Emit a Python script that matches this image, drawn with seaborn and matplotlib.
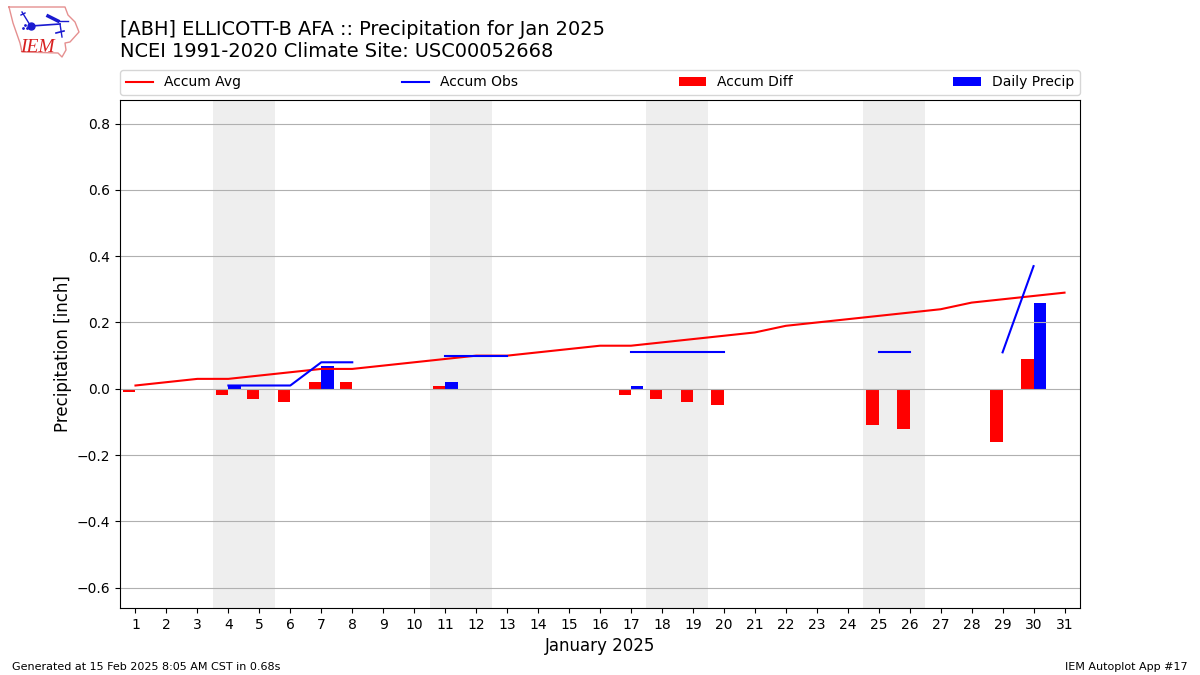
import matplotlib
matplotlib.use("Agg")
import matplotlib.pyplot as plt
import seaborn as sns
import pandas as pd
import numpy as np

days = list(range(1, 32))
accum_avg = [0.01, 0.02, 0.03, 0.03, 0.04, 0.05, 0.06, 0.06, 0.07, 0.08, 0.09,
             0.10, 0.10, 0.11, 0.12, 0.13, 0.13, 0.14, 0.15, 0.16, 0.17, 0.19,
             0.20, 0.21, 0.22, 0.23, 0.24, 0.26, 0.27, 0.28, 0.29]

# obs line is broken on days without a value, so keep a segment id for each point
obs_days = [4, 5, 6, 7, 8, 11, 12, 13, 17, 18, 19, 20, 25, 26, 29, 30]
obs_vals = [0.01, 0.01, 0.01, 0.08, 0.08, 0.10, 0.10, 0.10, 0.11, 0.11, 0.11,
            0.11, 0.11, 0.11, 0.11, 0.37]
obs_segment = [1, 1, 1, 1, 1, 2, 2, 2, 3, 3, 3, 3, 4, 4, 5, 5]

accum_diff = [-0.01, 0, 0, -0.02, -0.03, -0.04, 0.02, 0.02, 0, 0, 0.01, 0, 0, 0,
              0, 0, -0.02, -0.03, -0.04, -0.05, 0, 0, 0, 0, -0.11, -0.12, 0, 0,
              -0.16, 0.09, 0]
daily_precip = [0, 0, 0, 0.01, 0, 0, 0.07, 0, 0, 0, 0.02, 0, 0, 0, 0, 0, 0.01, 0,
                0, 0, 0, 0, 0, 0, 0, 0, 0, 0, 0, 0.26, 0]
saturdays = [4, 11, 18, 25]
yticks = [-0.6, -0.4, -0.2, 0.0, 0.2, 0.4, 0.6, 0.8]

W, H = 1200, 675


def main():
    fig = plt.figure(figsize=(12, 6.75), dpi=100)
    ax = fig.add_axes([120 / W, 1 - 608 / H, 960 / W, 508 / H])

    for sat in saturdays:
        ax.axvspan(sat - 0.5, sat + 1.5, color="#EEEEEE", lw=0, zorder=0)

    bars = pd.DataFrame({
        "day": days * 2,
        "value": accum_diff + daily_precip,
        "series": ["Accum Diff"] * 31 + ["Daily Precip"] * 31,
    })
    sns.barplot(data=bars, x="day", y="value", hue="series", native_scale=True,
                palette={"Accum Diff": "r", "Daily Precip": "b"}, saturation=1,
                width=0.8, linewidth=0, errorbar=None, ax=ax)

    sns.lineplot(x=days, y=accum_avg, color="r", label="Accum Avg", ax=ax)
    obs = pd.DataFrame({"day": obs_days, "value": obs_vals, "segment": obs_segment})
    sns.lineplot(data=obs, x="day", y="value", units="segment", estimator=None,
                 color="b", label="Accum Obs", ax=ax)

    ax.set_xlim(0.5, 31.5)
    ax.set_ylim(-0.661, 0.871)
    ax.set_xticks(days)
    ax.set_yticks(yticks)
    ax.grid(True, axis="y", color="#b0b0b0")
    ax.grid(False, axis="x")
    ax.set_xlabel("January 2025", fontsize=12)
    ax.set_ylabel("Precipitation [inch]", fontsize=12, labelpad=3)

    handles, labels = ax.get_legend_handles_labels()
    lookup = dict(zip(labels, handles))
    order = ["Accum Avg", "Accum Obs", "Accum Diff", "Daily Precip"]
    ax.legend([lookup[k] for k in order], order, loc="lower left",
              bbox_to_anchor=(0, 1.0098, 1, 0.05), mode="expand", ncol=4,
              borderaxespad=0, fontsize=10)

    fig.text(120 / W, 1 - 61 / H, "[ABH] ELLICOTT-B AFA :: Precipitation for Jan 2025\n"
             "NCEI 1991-2020 Climate Site: USC00052668", fontsize=13.97, ha="left", va="bottom")
    fig.text(12 / W, 1 - 670 / H, "Generated at 15 Feb 2025 8:05 AM CST in 0.68s", fontsize=8)
    fig.text(1188 / W, 1 - 670 / H, "IEM Autoplot App #17", fontsize=8, ha="right")

    draw_logo(fig)
    fig.savefig("out.png", dpi=100)


def draw_logo(fig):
    # rough copy of the IEM logo, axes units are reference pixels
    logo = fig.add_axes([0, 1 - 62 / H, 85 / W, 62 / H])
    logo.set_xlim(0, 85)
    logo.set_ylim(62, 0)
    logo.axis("off")
    outline_x = [9, 65, 68, 75, 79, 70, 65, 66, 62, 58, 22, 20, 13, 9]
    outline_y = [7, 7, 15, 22, 32, 42, 43, 50, 57, 53, 52, 43, 23, 7]
    logo.plot(outline_x, outline_y, color="#e59090", lw=1)
    blue = "#1a1ad0"
    logo.plot([31, 60], [26, 24], color=blue, lw=1.2)
    logo.plot([22, 30], [12, 25], color=blue, lw=1)
    logo.plot([21, 25], [15, 13], color=blue, lw=1)
    logo.plot([48, 58], [16, 21], color=blue, lw=2.5)
    logo.plot([58, 68], [21, 21], color=blue, lw=1)
    logo.plot([60, 62], [24, 37], color=blue, lw=1)
    logo.plot([56, 64], [33, 31], color=blue, lw=1.2)
    logo.plot([31], [26], marker="o", ms=5, color=blue)
    logo.plot([23, 25, 27], [28, 25, 28], ls="none", marker=".", ms=2, color=blue)
    logo.text(20, 52, "IEM", color="#d82020", fontsize=14, family="Liberation Serif",
              style="italic", va="baseline")


main()
